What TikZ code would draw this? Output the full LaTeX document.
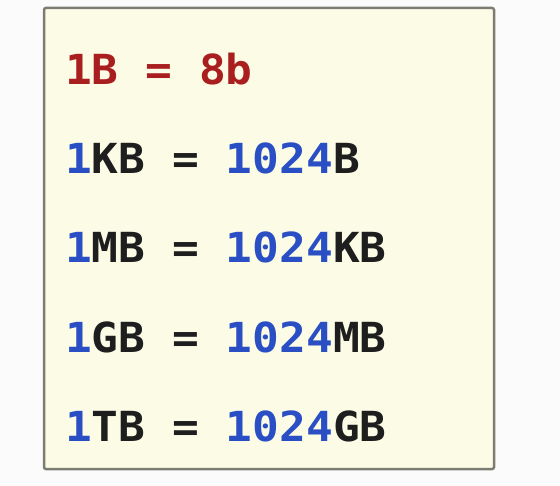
\documentclass[tikz,border=0pt]{standalone}
\usepackage{fontspec}
\newfontfamily\codefont{DejaVu Sans Mono}
\definecolor{bgc}{HTML}{FBFBFB}
\definecolor{boxfill}{HTML}{FCFCE6}
\definecolor{boxline}{HTML}{7C7C74}
\definecolor{redc}{HTML}{A91E1E}
\definecolor{bluec}{HTML}{2A4FC4}
\definecolor{blackc}{HTML}{1E1E1E}
\tikzset{
  codeline/.style={anchor=base west, inner sep=0pt, text=blackc,
    font=\codefont\bfseries\fontsize{44.5}{44.5}\selectfont, yscale=0.93, transform shape},
  panel/.style={draw=boxline, line width=2.5pt, fill=boxfill, rounded corners=2pt}
}
\newcommand{\bl}[1]{\textcolor{bluec}{#1}}
\begin{document}
\begin{tikzpicture}[x=1pt,y=-1pt]
\fill[bgc] (0,0) rectangle (560,486);
\useasboundingbox (0,0) rectangle (560,486);
\draw[panel] (44,8) rectangle (494,469);
\node[codeline, text=redc] (l1) at (65,85) {1B = 8b};
\node[codeline] (l2) at (65,174) {\bl{1}KB = \bl{1024}B};
\node[codeline] (l3) at (65,263) {\bl{1}MB = \bl{1024}KB};
\node[codeline] (l4) at (65,353) {\bl{1}GB = \bl{1024}MB};
\node[codeline] (l5) at (65,442) {\bl{1}TB = \bl{1024}GB};
\end{tikzpicture}
\end{document}
